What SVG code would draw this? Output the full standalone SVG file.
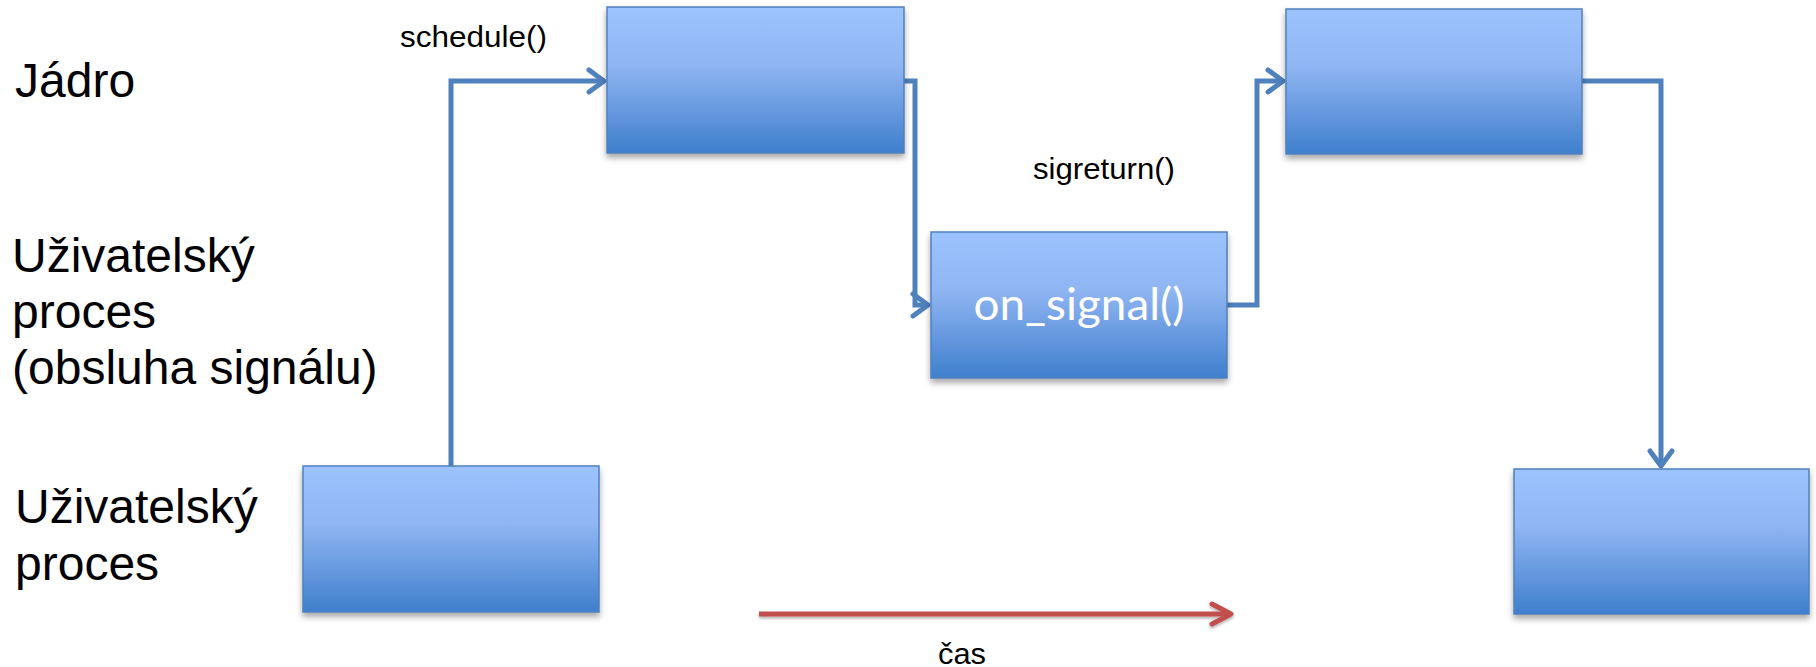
<svg xmlns="http://www.w3.org/2000/svg" width="1816" height="667" viewBox="0 0 1816 667">
<defs>
<linearGradient id="boxGrad" x1="0" y1="0" x2="0" y2="1">
<stop offset="0" stop-color="#9DC3FF"/>
<stop offset="0.4" stop-color="#8FB5F2"/>
<stop offset="1" stop-color="#3F7FCD"/>
</linearGradient>
<filter id="shadow" x="-10%" y="-10%" width="120%" height="130%">
<feDropShadow dx="0" dy="4" stdDeviation="3" flood-color="#000" flood-opacity="0.35"/>
</filter>
<filter id="lshadow" filterUnits="userSpaceOnUse" x="740" y="590" width="520" height="50">
<feDropShadow dx="0" dy="2" stdDeviation="1.5" flood-color="#000" flood-opacity="0.3"/>
</filter>
<marker id="arrBlue" markerUnits="userSpaceOnUse" viewBox="-20 -14 24 28" refX="0" refY="0" markerWidth="24" markerHeight="28" orient="auto">
<path d="M-15,-11 L0,0 L-15,11" fill="none" stroke="#4F81BD" stroke-width="5" stroke-linecap="round" stroke-linejoin="round"/>
</marker>
<marker id="arrRed" markerUnits="userSpaceOnUse" viewBox="-24 -14 28 28" refX="0" refY="0" markerWidth="28" markerHeight="28" orient="auto">
<path d="M-19,-10 L0,0 L-19,10" fill="none" stroke="#C0504D" stroke-width="5" stroke-linecap="round" stroke-linejoin="round"/>
</marker>
</defs>
<style>
.box{fill:url(#boxGrad);stroke:#4F81BD;stroke-width:1.5;filter:url(#shadow);}
.conn{fill:none;stroke:#4F81BD;stroke-width:5;stroke-linejoin:miter;marker-end:url(#arrBlue);}
.big{font-family:"Liberation Sans",Arial,sans-serif;font-size:48px;fill:#000;}
.small{font-family:"Liberation Sans",Arial,sans-serif;font-size:30px;fill:#000;}
.inbox{font-family:Lato,"Open Sans",sans-serif;font-size:45px;fill:#fff;}
</style>
<g id="labels">
<text class="big" x="15" y="97">Jádro</text>
<text class="big" x="12" y="272">Uživatelský</text>
<text class="big" x="12" y="328">proces</text>
<text class="big" x="12" y="384">(obsluha signálu)</text>
<text class="big" x="15" y="523">Uživatelský</text>
<text class="big" x="15" y="580">proces</text>
</g>
<g id="connectors">
<path class="conn" d="M451,466 V81 H604"/>
<path class="conn" d="M904,81 H915 V305 H928"/>
<path class="conn" d="M1227,305 H1257 V81 H1283"/>
<path class="conn" d="M1582,81 H1661 V466"/>
<path d="M759,614 H1231" fill="none" stroke="#C0504D" stroke-width="5" marker-end="url(#arrRed)" filter="url(#lshadow)"/>
<text class="small" x="400" y="47" textLength="147" lengthAdjust="spacingAndGlyphs">schedule()</text>
<text class="small" x="1033" y="179" textLength="142" lengthAdjust="spacingAndGlyphs">sigreturn()</text>
<text class="small" x="938" y="664" textLength="48" lengthAdjust="spacingAndGlyphs">čas</text>
</g>
<g id="user-process-start">
<rect class="box" x="303" y="466" width="296" height="146"/>
</g>
<g id="kernel-1">
<rect class="box" x="607" y="7" width="297" height="146"/>
</g>
<g id="on-signal">
<rect class="box" x="931" y="232" width="296" height="146"/>
<text class="inbox" x="1079" y="320" text-anchor="middle" textLength="211" lengthAdjust="spacingAndGlyphs">on_signal()</text>
</g>
<g id="kernel-2">
<rect class="box" x="1286" y="9" width="296" height="145"/>
</g>
<g id="user-process-end">
<rect class="box" x="1514" y="469" width="295" height="145"/>
</g>
</svg>
